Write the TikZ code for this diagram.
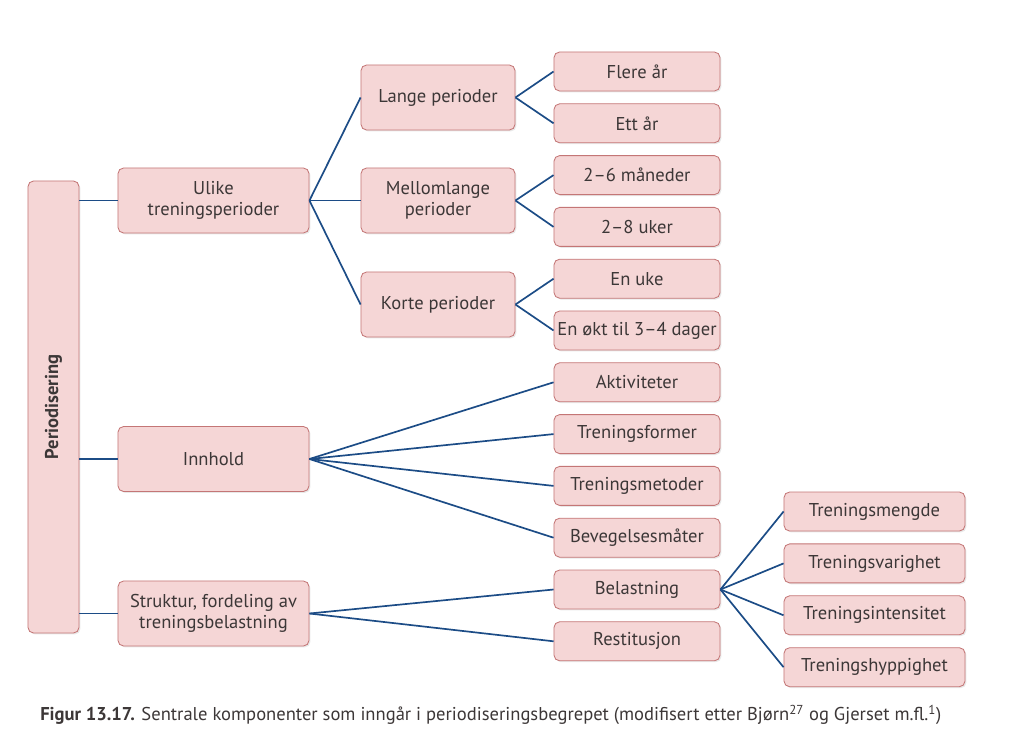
\documentclass[tikz,border=0pt]{standalone}
\usepackage{fontspec}
\setmainfont{PT Sans}
\usepackage{tikz}
\usetikzlibrary{positioning,calc,shadows}
\definecolor{boxfill}{RGB}{245,214,214}
\definecolor{boxline}{RGB}{196,118,118}
\definecolor{linkblue}{RGB}{28,76,134}
\definecolor{textgray}{RGB}{60,55,55}
\tikzset{
    pbox/.style={draw=boxline, fill=boxfill, rounded corners=4pt, text=textgray,
        align=center, inner sep=0pt, line width=0.6pt, font=\fontsize{13.2}{15}\selectfont,
        drop shadow={opacity=0.18, shadow xshift=1pt, shadow yshift=-1pt}},
    leafbox/.style={pbox, minimum width=4.15cm, minimum height=0.975cm},
    midbox/.style={pbox, minimum width=3.85cm, minimum height=1.625cm},
    topbox/.style={pbox, minimum width=4.775cm, minimum height=1.625cm},
    farbox/.style={pbox, minimum width=4.525cm, minimum height=0.975cm},
    link/.style={draw=linkblue, line width=1.2pt}
}

\begin{document}
\begin{tikzpicture}[x=0.025cm, y=-0.025cm]
    \useasboundingbox (0,0) rectangle (1024,755);

    % Root
    \node[pbox, minimum width=1.275cm, minimum height=11.3cm] (perio) at (53.5,407)
        {\rotatebox{90}{\textbf{Periodisering}}};

    % First level
    \node[topbox] (ulike) at (213.5,200.5) {Ulike\\treningsperioder};
    \node[topbox] (innhold) at (213.5,459) {Innhold};
    \node[topbox] (struktur) at (213.5,613.5) {Struktur, fordeling av\\treningsbelastning};

    % Periods
    \node[midbox] (lange) at (438,97.5) {Lange perioder};
    \node[midbox] (mellom) at (438,200.5) {Mellomlange\\perioder};
    \node[midbox] (korte) at (438,304.5) {Korte perioder};

    % Right column
    \foreach \name/\txt [count=\i] in {flere/Flere år, ett/Ett år, mnd/2--6 måneder,
        uker/2--8 uker, uke/En uke, okt/En økt til 3--4 dager, akt/Aktiviteter,
        former/Treningsformer, metoder/Treningsmetoder, bevegelse/Bevegelsesmåter,
        belast/Belastning, restit/Restitusjon} {
        \node[leafbox] (\name) at (637,71.5+51.8*\i-51.8) {\txt};
    }

    % Load components
    \foreach \name/\txt [count=\i] in {mengde/Treningsmengde, varighet/Treningsvarighet,
        intensitet/Treningsintensitet, hyppighet/Treningshyppighet} {
        \node[farbox] (\name) at (874.5,511.5+51.9*\i-51.9) {\txt};
    }

    % Connectors
    \foreach \n in {ulike,innhold,struktur}
        \draw[link] (\n.west -| perio.east) -- (\n.west);
    \foreach \n in {lange,mellom,korte}
        \draw[link] (ulike.east) -- (\n.west);
    \draw[link] (lange.east) -- (flere.west);
    \draw[link] (lange.east) -- (ett.west);
    \draw[link] (mellom.east) -- (mnd.west);
    \draw[link] (mellom.east) -- (uker.west);
    \draw[link] (korte.east) -- (uke.west);
    \draw[link] (korte.east) -- (okt.west);
    \foreach \n in {akt,former,metoder,bevegelse}
        \draw[link] (innhold.east) -- (\n.west);
    \draw[link] (struktur.east) -- (belast.west);
    \draw[link] (struktur.east) -- (restit.west);
    \foreach \n in {mengde,varighet,intensitet,hyppighet}
        \draw[link] (belast.east) -- (\n.west);

    % Caption
    \node[anchor=west, text=textgray, inner sep=0pt, font=\fontsize{13.2}{15}\selectfont] (caption) at (40,715)
        {\textbf{Figur 13.17.} Sentrale komponenter som inngår i periodiseringsbegrepet (modifisert etter Bjørn\textsuperscript{27} og Gjerset m.fl.\textsuperscript{1})};
\end{tikzpicture}
\end{document}
